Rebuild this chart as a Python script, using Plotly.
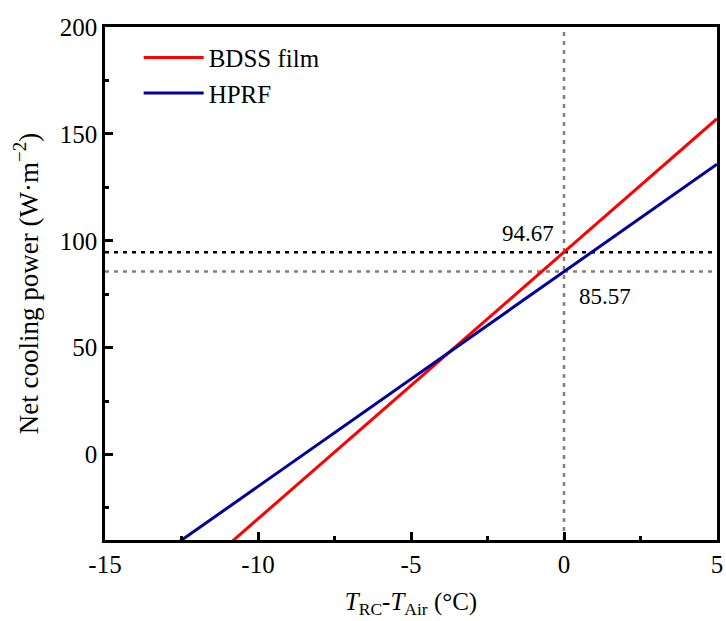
import plotly.graph_objects as go

# Temperature difference T_RC - T_Air (°C)
temp_diff = [-15, -10, -5, 0, 5]
# Net cooling power (W·m^-2) for each material
bdss_power = [-92.5, -30.1, 32.3, 94.67, 157.1]
hprf_power = [-65.2, -14.9, 35.3, 85.57, 135.8]

# Values at T_RC = T_Air
bdss_at_zero = 94.67
hprf_at_zero = 85.57

x_range = [-15, 5]
y_range = [-40, 200]
x_ticks = [-15, -10, -5, 0, 5]
x_tick_labels = ["-15", "-10", "-5", "0", "5"]
y_ticks = [0, 50, 100, 150, 200]
y_tick_labels = ["0", "50", "100", "150", "200"]

FONT = "Liberation Serif"

fig = go.Figure()

# Reference lines at x = 0 and the two zero-difference values
fig.add_trace(go.Scatter(x=[0, 0], y=y_range, mode="lines",
                         line=dict(color="#808080", width=2.5, dash="4px,5px"),
                         showlegend=False, hoverinfo="skip"))
fig.add_trace(go.Scatter(x=x_range, y=[hprf_at_zero] * 2, mode="lines",
                         line=dict(color="#808080", width=2.5, dash="4px,5px"),
                         showlegend=False, hoverinfo="skip"))
fig.add_trace(go.Scatter(x=x_range, y=[bdss_at_zero] * 2, mode="lines",
                         line=dict(color="black", width=2.5, dash="4px,5px"),
                         showlegend=False, hoverinfo="skip"))

fig.add_trace(go.Scatter(x=temp_diff, y=bdss_power, mode="lines", name="BDSS film",
                         line=dict(color="#ff0000", width=3)))
fig.add_trace(go.Scatter(x=temp_diff, y=hprf_power, mode="lines", name="HPRF",
                         line=dict(color="#00009c", width=3)))

fig.add_annotation(x=-1.18, y=103.5, text=f"{bdss_at_zero:.2f}", showarrow=False,
                   font=dict(family=FONT, size=23, color="black"))
fig.add_annotation(x=1.34, y=73.7, text=f"{hprf_at_zero:.2f}", showarrow=False,
                   font=dict(family=FONT, size=23, color="black"))

axis_common = dict(
    showline=True, linecolor="black", linewidth=2.5, mirror=True,
    ticks="inside", ticklen=8, tickwidth=2.5, tickcolor="black",
    showgrid=False, zeroline=False, automargin=False,
    tickfont=dict(family=FONT, size=25, color="black"),
    minor=dict(ticks="inside", ticklen=4, tickwidth=2.5, tickcolor="black"),
)

fig.update_xaxes(range=x_range, tickmode="array", tickvals=x_ticks, ticktext=x_tick_labels,
                 title=dict(text="<i>T</i><sub>RC</sub>-<i>T</i><sub>Air</sub> (°C)",
                            font=dict(family=FONT, size=25, color="black"), standoff=16),
                 **axis_common)
fig.update_yaxes(range=y_range, tickmode="array", tickvals=y_ticks, ticktext=y_tick_labels,
                 title=dict(text="Net cooling power (W·m<sup>−2</sup>)",
                            font=dict(family=FONT, size=27, color="black"), standoff=14),
                 **axis_common)
fig.update_xaxes(minor=dict(tickvals=[-12.5, -7.5, -2.5, 2.5]))
fig.update_yaxes(minor=dict(tickvals=[-25, 25, 75, 125, 175]))

fig.update_layout(
    width=726, height=621,
    margin=dict(l=105, r=9, t=27, b=81),
    plot_bgcolor="white", paper_bgcolor="white",
    font=dict(family=FONT, size=25, color="black"),
    legend=dict(x=0.055, y=0.985, xanchor="left", yanchor="top",
                bgcolor="rgba(0,0,0,0)", itemwidth=60,
                font=dict(family=FONT, size=25, color="black")),
)

fig.write_html("out.html")
